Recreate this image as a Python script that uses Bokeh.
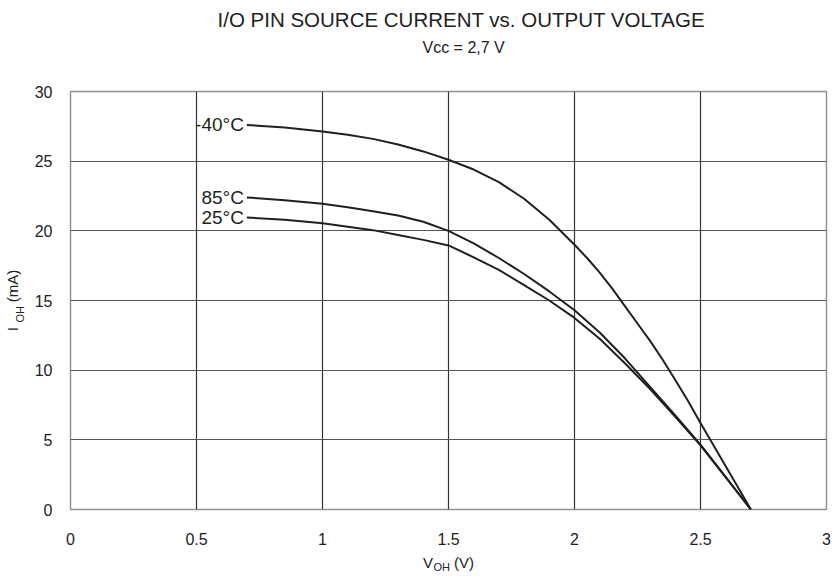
import math
from bokeh.plotting import figure
from bokeh.models import FixedTicker, Range1d, ColumnDataSource, Title
from bokeh.core.properties import value
from bokeh.embed import file_html
from bokeh.resources import INLINE

# ---- data ----
v_m40 = [0.70, 0.85, 1.00, 1.10, 1.20, 1.30, 1.40, 1.50, 1.60, 1.70, 1.80, 1.90, 2.00, 2.05, 2.10, 2.15, 2.20, 2.25, 2.30, 2.35, 2.40, 2.45, 2.50, 2.60, 2.70]
i_m40 = [27.6, 27.42, 27.13, 26.9, 26.6, 26.2, 25.7, 25.1, 24.4, 23.5, 22.3, 20.8, 19.0, 18.05, 17.0, 15.85, 14.6, 13.35, 12.1, 10.75, 9.3, 7.8, 6.2, 3.1, 0.0]

v_85 = [0.70, 0.85, 1.00, 1.10, 1.20, 1.30, 1.40, 1.50, 1.60, 1.70, 1.80, 1.90, 2.00, 2.10, 2.20, 2.30, 2.40, 2.50, 2.60, 2.70]
i_85 = [22.4, 22.2, 21.95, 21.7, 21.4, 21.1, 20.65, 20.0, 19.1, 18.05, 16.9, 15.65, 14.3, 12.7, 10.85, 8.8, 6.75, 4.65, 2.35, 0.0]

v_25 = [0.70, 0.85, 1.00, 1.10, 1.20, 1.30, 1.40, 1.50, 1.60, 1.70, 1.80, 1.90, 2.00, 2.10, 2.20, 2.30, 2.40, 2.50, 2.60, 2.70]
i_25 = [20.95, 20.8, 20.55, 20.3, 20.05, 19.7, 19.35, 18.95, 18.1, 17.2, 16.1, 15.0, 13.75, 12.25, 10.5, 8.65, 6.65, 4.6, 2.3, 0.0]

curve_labels = ["-40°C", "85°C", "25°C"]

x_ticks = [0, 0.5, 1, 1.5, 2, 2.5, 3]
x_tick_labels = ["0", "0.5", "1", "1.5", "2", "2.5", "3"]
y_ticks = [0, 5, 10, 15, 20, 25, 30]
y_tick_labels = ["0", "5", "10", "15", "20", "25", "30"]

title_text = "I/O PIN SOURCE CURRENT vs. OUTPUT VOLTAGE"
subtitle_text = "Vcc = 2,7 V"
NB = "\u00a0"
x_label_main = "V" + NB * 5 + "(V)"
y_label_main = "I" + NB * 6 + "(mA)"
sub_text = "OH"

FONT = "Liberation Sans"
INK = "#231f20"
TXT = "#222222"

p = figure(frame_width=756, frame_height=418, output_backend="svg", toolbar_location=None,
           x_range=Range1d(0, 3), y_range=Range1d(0, 30))
p.min_border_left = 70
p.min_border_right = 8
p.min_border_top = 91
p.min_border_bottom = 70
p.background_fill_color = "white"
p.border_fill_color = "white"
p.outline_line_color = "#8a939b"
p.outline_line_width = 1.5

p.xaxis.ticker = FixedTicker(ticks=x_ticks)
p.yaxis.ticker = FixedTicker(ticks=y_ticks)
p.xaxis.major_label_overrides = {t: l for t, l in zip(x_ticks, x_tick_labels)}
p.yaxis.major_label_overrides = {t: l for t, l in zip(y_ticks, y_tick_labels)}
for ax in (p.xaxis, p.yaxis):
    ax.axis_line_color = None
    ax.major_tick_line_color = None
    ax.minor_tick_line_color = None
    ax.major_label_text_font = FONT
    ax.major_label_text_font_size = "16px"
    ax.major_label_text_color = TXT
    ax.axis_label_text_font = FONT
    ax.axis_label_text_font_size = "15px"
    ax.axis_label_text_font_style = "normal"
    ax.axis_label_text_color = TXT
p.xaxis.major_label_standoff = 17
p.yaxis.major_label_standoff = 12
p.xaxis.axis_label = x_label_main
p.yaxis.axis_label = y_label_main
p.xaxis.axis_label_standoff = 6
p.yaxis.axis_label_standoff = 11

p.xgrid.grid_line_color = "#333333"
p.xgrid.grid_line_width = 1.2
p.ygrid.grid_line_color = "#555555"
p.ygrid.grid_line_width = 1.2

for xs, ys in ((v_m40, i_m40), (v_85, i_85), (v_25, i_25)):
    p.line(xs, ys, line_color=INK, line_width=2)

src = ColumnDataSource(dict(
    x=[v_m40[0], v_85[0], v_25[0]],
    y=[i_m40[0], i_85[0], i_25[0]],
    t=curve_labels,
))
p.text(x="x", y="y", text="t", source=src, text_align="right", text_baseline="middle",
       x_offset=-3, text_font=value(FONT), text_font_size="19px", text_color=INK)

# titles as Title objects (first added = nearest to the frame)
p.add_layout(Title(text=subtitle_text, align="left", offset=352, standoff=71,
                   text_font=FONT, text_font_size="16px", text_font_style="normal",
                   text_color=TXT), "above")
p.add_layout(Title(text=title_text, align="left", offset=147, standoff=-59,
                   text_font=FONT, text_font_size="20.5px", text_font_style="normal",
                   text_color=TXT), "above")

# subscripts of the axis labels
p.add_layout(Title(text=sub_text, align="left", offset=363, standoff=-25, vertical_align="top",
                   text_font=FONT, text_font_size="11px", text_font_style="normal",
                   text_color=TXT), "below")
p.add_layout(Title(text=sub_text, align="left", offset=187, standoff=-50,
                   text_font=FONT, text_font_size="11px", text_font_style="normal",
                   text_color=TXT), "left")

open("out.html", "w").write(file_html(p, INLINE))
